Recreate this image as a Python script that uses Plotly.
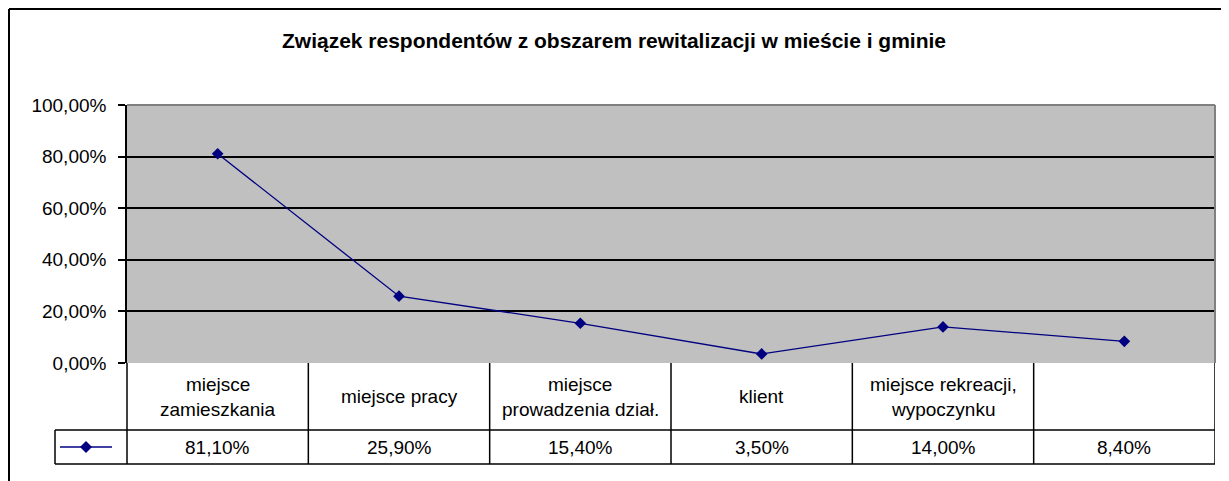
import plotly.graph_objects as go

# Dane
categories = ["miejsce<br>zamieszkania", "miejsce pracy", "miejsce<br>prowadzenia dział.",
              "klient", "miejsce rekreacji,<br>wypoczynku", ""]
values = [0.811, 0.259, 0.154, 0.035, 0.140, 0.084]
y_ticks = [0, 0.2, 0.4, 0.6, 0.8, 1.0]
title = "Związek respondentów z obszarem rewitalizacji w mieście i gminie"

# Geometria (piksele strony); strona ma margines 8 px wokół wykresu
OFF = 8
W, H = 1229 - OFF, 481 - OFF
L, R, T, B = 127, 1215, 105, 363
ROW1, ROW2 = 430, 464
LEG_LEFT = 55
NAVY = "#000080"
FONT = "Liberation Sans, Arial, sans-serif"


def px_x(p):
    return (p - L) / (R - L)


def px_y(p):
    return (B - p) / (B - T)


x = list(range(len(values)))

fig = go.Figure(go.Scatter(
    x=x, y=values, mode="lines+markers",
    line=dict(color=NAVY, width=1.3),
    marker=dict(symbol="diamond", size=9, color=NAVY),
    showlegend=False, hoverinfo="skip"))

shapes = []
blk = dict(color="black", width=1.5)

# linie tabeli danych
for py in (ROW1, ROW2):
    shapes.append(dict(type="line", xref="paper", yref="paper",
                       x0=px_x(LEG_LEFT), x1=1, y0=px_y(py), y1=px_y(py), line=blk))
shapes.append(dict(type="line", xref="paper", yref="paper",
                   x0=0, x1=0, y0=0, y1=px_y(ROW2), line=blk))
shapes.append(dict(type="line", xref="paper", yref="paper",
                   x0=px_x(LEG_LEFT), x1=px_x(LEG_LEFT), y0=px_y(ROW1), y1=px_y(ROW2), line=blk))
for i in x:
    shapes.append(dict(type="line", xref="x", yref="paper",
                       x0=i + 0.5, x1=i + 0.5, y0=0, y1=px_y(ROW2), line=blk))

# ramka obszaru kreślenia (szara, u góry i z prawej)
gray = dict(color="#808080", width=2)
shapes.append(dict(type="line", xref="paper", yref="paper", x0=0, x1=1, y0=1, y1=1,
                   line=gray, layer="above"))
shapes.append(dict(type="line", xref="paper", yref="paper", x0=1, x1=1, y0=0, y1=1,
                   line=gray, layer="above"))

# ramka całego wykresu
frame = dict(color="black", width=2)
shapes.append(dict(type="line", xref="paper", yref="paper",
                   x0=px_x(9), x1=px_x(9), y0=px_y(9), y1=px_y(500), line=frame))
shapes.append(dict(type="line", xref="paper", yref="paper",
                   x0=px_x(9), x1=px_x(1240), y0=px_y(9), y1=px_y(9), line=frame))

# klucz legendy w tabeli
leg_y = px_y((ROW1 + ROW2) / 2)
leg_x = px_x(86)
shapes.append(dict(type="line", xref="paper", yref="paper", xsizemode="pixel", ysizemode="pixel",
                   xanchor=leg_x, yanchor=leg_y, x0=-26, x1=26, y0=0, y1=0,
                   line=dict(color=NAVY, width=1.5)))
shapes.append(dict(type="path", xref="paper", yref="paper", xsizemode="pixel", ysizemode="pixel",
                   xanchor=leg_x, yanchor=leg_y, path="M -6 0 L 0 6 L 6 0 L 0 -6 Z",
                   fillcolor=NAVY, line=dict(color=NAVY, width=0)))

annotations = []
row1_mid = (B + ROW1) / 2
for i, cat in enumerate(categories):
    lines = cat.split("<br>")
    for k, txt in enumerate(lines):
        off = (k - (len(lines) - 1) / 2) * 25
        annotations.append(dict(x=i, y=px_y(row1_mid + off), xref="x", yref="paper",
                                text=txt, showarrow=False, xanchor="center", yanchor="middle",
                                font=dict(size=19, color="black", family=FONT)))
    label = f"{values[i] * 100:.2f}%".replace(".", ",")
    annotations.append(dict(x=i, y=px_y((ROW1 + ROW2) / 2), xref="x", yref="paper",
                            text=label, showarrow=False, xanchor="center", yanchor="middle",
                            font=dict(size=19, color="black", family=FONT)))

fig.update_layout(
    width=W, height=H,
    margin=dict(l=L - OFF, r=W - (R - OFF), t=T - OFF, b=H - (B - OFF)),
    paper_bgcolor="white", plot_bgcolor="#C0C0C0",
    separators=", ",
    font=dict(family=FONT, size=19, color="black"),
    title=dict(text="<b>" + title + "</b>", x=(614 - OFF) / W, xref="container", xanchor="center",
               y=1 - (41 - OFF) / H, yref="container", yanchor="middle",
               font=dict(size=21, color="black", family=FONT)),
    xaxis=dict(range=[-0.5, len(values) - 0.5], showticklabels=False, showgrid=False,
               zeroline=False, showline=False, fixedrange=True),
    yaxis=dict(range=[0, 1], tickvals=y_ticks, tickformat=".2%", showgrid=True,
               gridcolor="black", gridwidth=1.5, zeroline=False, ticks="outside",
               ticklen=7, tickcolor="black", tickwidth=1.5, showline=True,
               linecolor="black", linewidth=1.5, ticklabelstandoff=8,
               tickfont=dict(size=19, color="black", family=FONT)),
    shapes=shapes, annotations=annotations,
)

fig.write_html("out.html")
